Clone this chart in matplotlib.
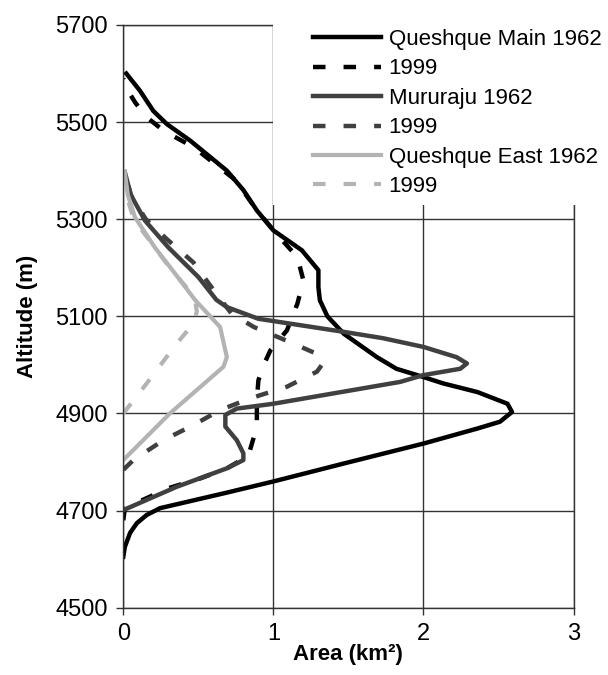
import matplotlib
matplotlib.use("Agg")
import matplotlib.pyplot as plt
from matplotlib.patches import Rectangle

plt.rcParams['font.family'] = ['Liberation Sans', 'DejaVu Sans']
plt.rcParams['font.size'] = 16
plt.rcParams['lines.scale_dashes'] = False

# glacier hypsometry: altitude (m) vs area (km2)
qm62_alt = [4605, 4625, 4654, 4674, 4691, 4705, 4737, 4760, 4797, 4838, 4869, 4883, 4903,
            4920, 4944, 4962, 4975, 4992, 5016, 5064, 5100, 5133, 5160, 5195, 5236, 5277,
            5318, 5360, 5400, 5462, 5496, 5523, 5565, 5600]
qm62_area = [0.0, 0.01, 0.045, 0.09, 0.156, 0.245, 0.69, 1.0, 1.47, 2.0, 2.36, 2.51, 2.59,
             2.56, 2.36, 2.13, 2.0, 1.82, 1.69, 1.47, 1.36, 1.31, 1.30, 1.30, 1.19, 1.0,
             0.89, 0.8, 0.69, 0.445, 0.29, 0.2, 0.11, 0.02]

qm99_alt = [4680, 4705, 4746, 4767, 4787, 4810, 4820, 4873, 4927, 4968, 4996, 5030, 5071,
            5126, 5174, 5222, 5270, 5318, 5380, 5448, 5482, 5510, 5540, 5575, 5590]
qm99_area = [0.0, 0.01, 0.3, 0.52, 0.69, 0.82, 0.84, 0.89, 0.89, 0.90, 0.93, 0.98, 1.09,
             1.16, 1.2, 1.16, 1.02, 0.89, 0.75, 0.47, 0.27, 0.156, 0.08, 0.01, 0.0]

mu62_alt = [4701, 4749, 4787, 4804, 4818, 4845, 4873, 4897, 4910, 4920, 4965, 4979, 4992,
            5003, 5016, 5037, 5055, 5068, 5095, 5119, 5134, 5181, 5242, 5297, 5350, 5397]
mu62_area = [0.0, 0.356, 0.69, 0.8, 0.8, 0.756, 0.68, 0.68, 0.756, 1.0, 1.845, 2.0, 2.245,
             2.29, 2.22, 2.0, 1.73, 1.47, 0.9, 0.69, 0.62, 0.5, 0.3, 0.145, 0.05, 0.01]

mu99_alt = [4784, 4804, 4845, 4876, 4907, 4931, 4955, 4986, 5003, 5020, 5047, 5078, 5106,
            5164, 5211, 5259, 5300, 5350, 5397]
mu99_area = [0.0, 0.067, 0.267, 0.467, 0.645, 0.845, 1.09, 1.29, 1.33, 1.31, 1.11, 0.87,
             0.72, 0.578, 0.467, 0.29, 0.15, 0.05, 0.01]

qe62_alt = [4804, 4900, 4996, 5016, 5078, 5133, 5188, 5242, 5304, 5350, 5397]
qe62_area = [0.0, 0.31, 0.667, 0.69, 0.645, 0.48, 0.345, 0.21, 0.078, 0.03, 0.01]

qe99_alt = [4900, 4962, 5044, 5085, 5110, 5130, 5160, 5200, 5250, 5300, 5350, 5397]
qe99_area = [0.0, 0.156, 0.356, 0.467, 0.49, 0.48, 0.42, 0.31, 0.19, 0.07, 0.02, 0.0]

x_ticks = [0, 1, 2, 3]
y_ticks = [4500, 4700, 4900, 5100, 5300, 5500, 5700]

BLACK = '#000000'
DARK = '#404040'
LIGHT = '#b3b3b3'
DASH = (9, 13)

fig = plt.figure(figsize=(6.08, 6.75), dpi=100)
ax = fig.add_axes([0.2028, 0.0997, 0.7405, 0.8633])

ax.plot(qm62_area, qm62_alt, color=BLACK, lw=3.2, label='Queshque Main 1962')
ax.plot(qm99_area, qm99_alt, color=BLACK, lw=3.2, dashes=DASH, label='1999')
ax.plot(mu62_area, mu62_alt, color=DARK, lw=3.2, label='Mururaju 1962')
ax.plot(mu99_area, mu99_alt, color=DARK, lw=3.2, dashes=DASH, label='1999')
ax.plot(qe62_area, qe62_alt, color=LIGHT, lw=3.0, label='Queshque East 1962')
ax.plot(qe99_area, qe99_alt, color=LIGHT, lw=3.0, dashes=DASH, label='1999')

ax.set_xlim(0, 3)
ax.set_ylim(4500, 5700)
ax.set_xticks(x_ticks)
ax.set_yticks(y_ticks)
ax.grid(True, color='#333333', lw=1.0)
ax.set_axisbelow(True)
for sp in ax.spines.values():
    sp.set_color('#333333')
    sp.set_linewidth(1.0)
ax.tick_params(direction='out', length=5, width=1, color='#333333', pad=6, labelsize=17)

ax.set_ylabel('Altitude (m)', fontweight='bold', fontsize=16)
ax.set_xlabel('Area (km²)', fontweight='bold', fontsize=16)
ax.yaxis.set_label_coords(-0.19, 0.5)
ax.xaxis.set_label_coords(0.5, -0.062)

# white block behind the legend, hides grid and spines there
ax.add_patch(Rectangle((1 / 3, 0.691), 0.8, 0.4, transform=ax.transAxes,
                       facecolor='white', edgecolor='none', clip_on=False, zorder=2.6))

ax.legend(loc='upper left', bbox_to_anchor=(0.4214, 0.993), frameon=False,
          borderpad=0, borderaxespad=0, handlelength=3.05, handletextpad=0.35,
          labelspacing=0.38, fontsize=16)

fig.savefig('out.png', dpi=100)
